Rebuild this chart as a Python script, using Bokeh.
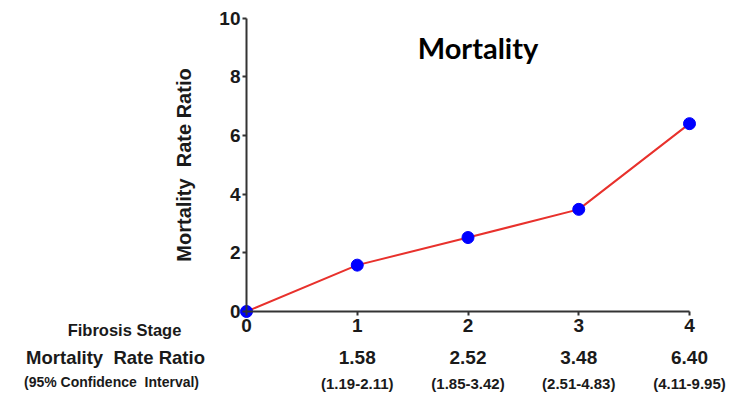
from bokeh.plotting import figure
from bokeh.models import Range1d, FixedTicker, Label, ColumnDataSource
from bokeh.embed import file_html
from bokeh.resources import INLINE

# ---- data ----
stages = [0, 1, 2, 3, 4]
ratios = [0.0, 1.58, 2.52, 3.48, 6.40]
ratio_stages = [1, 2, 3, 4]
ratio_labels = ["1.58", "2.52", "3.48", "6.40"]
ci_labels = ["(1.19-2.11)", "(1.85-3.42)", "(2.51-4.83)", "(4.11-9.95)"]
y_ticks = [0, 2, 4, 6, 8, 10]
x_ticks = [0, 1, 2, 3, 4]
title_text = "Mortality"
y_title = "Mortality\u00a0 Rate Ratio"
row1_title = "Fibrosis Stage"
row2_title = "Mortality\u00a0 Rate Ratio"
row3_title = "(95% Confidence\u00a0 Interval)"

FONT = "Liberation Sans"
DARK = "#1a1a1a"

W, H = 733, 397
X0, XU = 246.0, 110.75      # pixel of x=0, pixels per unit
Y0, YU = 311.0, 29.35       # pixel of y=0, pixels per unit

p = figure(width=W, height=H, output_backend="svg", toolbar_location=None,
           title=None,
           x_range=Range1d(-X0 / XU, (W - X0) / XU),
           y_range=Range1d((Y0 - H) / YU, Y0 / YU),
           min_border_left=0, min_border_right=0, min_border_top=0,
           min_border_bottom=0)
p.outline_line_color = None
p.xgrid.visible = False
p.ygrid.visible = False
p.background_fill_color = "white"
p.border_fill_color = "white"

# axes
for ax in (p.xaxis[0], p.yaxis[0]):
    ax.axis_line_color = "#333333"
    ax.axis_line_width = 2
    ax.major_tick_line_color = "#333333"
    ax.major_tick_line_width = 2
    ax.major_tick_in = 0
    ax.major_tick_out = 4
    ax.minor_tick_line_color = None
    ax.major_label_text_font = FONT
    ax.major_label_text_font_style = "bold"
    ax.major_label_text_font_size = "19px"
    ax.major_label_text_color = DARK

p.xaxis[0].fixed_location = 0
p.yaxis[0].fixed_location = 0
p.xaxis[0].bounds = (0, 4)
p.yaxis[0].bounds = (0, 10)
p.xaxis[0].ticker = FixedTicker(ticks=x_ticks)
p.yaxis[0].ticker = FixedTicker(ticks=y_ticks)
p.xaxis[0].major_label_standoff = 3
p.yaxis[0].major_label_standoff = 2

p.yaxis[0].axis_label = y_title
p.yaxis[0].axis_label_text_font = FONT
p.yaxis[0].axis_label_text_font_style = "bold"
p.yaxis[0].axis_label_text_font_size = "20px"
p.yaxis[0].axis_label_text_color = DARK
p.yaxis[0].axis_label_standoff = 21

# data
src = ColumnDataSource(dict(x=stages, y=ratios))
p.line("x", "y", source=src, line_color="#e8312c", line_width=2)
p.scatter("x", "y", source=src, size=12, fill_color="#0000ff", line_color="#0000ff")

# title
p.add_layout(Label(x=(477.5 - X0) / XU, y=(Y0 - 47) / YU, text=title_text,
                   text_font="Lato", text_font_style="bold", text_font_size="29px",
                   text_color="black", text_align="center", text_baseline="middle"))

def row_label(xpix, ypix, text, size):
    p.add_layout(Label(x=(xpix - X0) / XU, y=(Y0 - ypix) / YU, text=text,
                       text_font=FONT, text_font_style="bold", text_font_size=size,
                       text_color=DARK, text_align="center", text_baseline="middle"))

row_label(124, 329, row1_title, "16.5px")
row_label(115, 357, row2_title, "18.5px")
row_label(111, 381, row3_title, "14px")

for s, r, c in zip(ratio_stages, ratio_labels, ci_labels):
    p.add_layout(Label(x=s, y=(Y0 - 357) / YU, text=r, text_font=FONT,
                       text_font_style="bold", text_font_size="19px", text_color=DARK,
                       text_align="center", text_baseline="middle"))
    p.add_layout(Label(x=s, y=(Y0 - 383) / YU, text=c, text_font=FONT,
                       text_font_style="bold", text_font_size="15px", text_color=DARK,
                       text_align="center", text_baseline="middle"))

open("out.html", "w").write(file_html(p, INLINE))
